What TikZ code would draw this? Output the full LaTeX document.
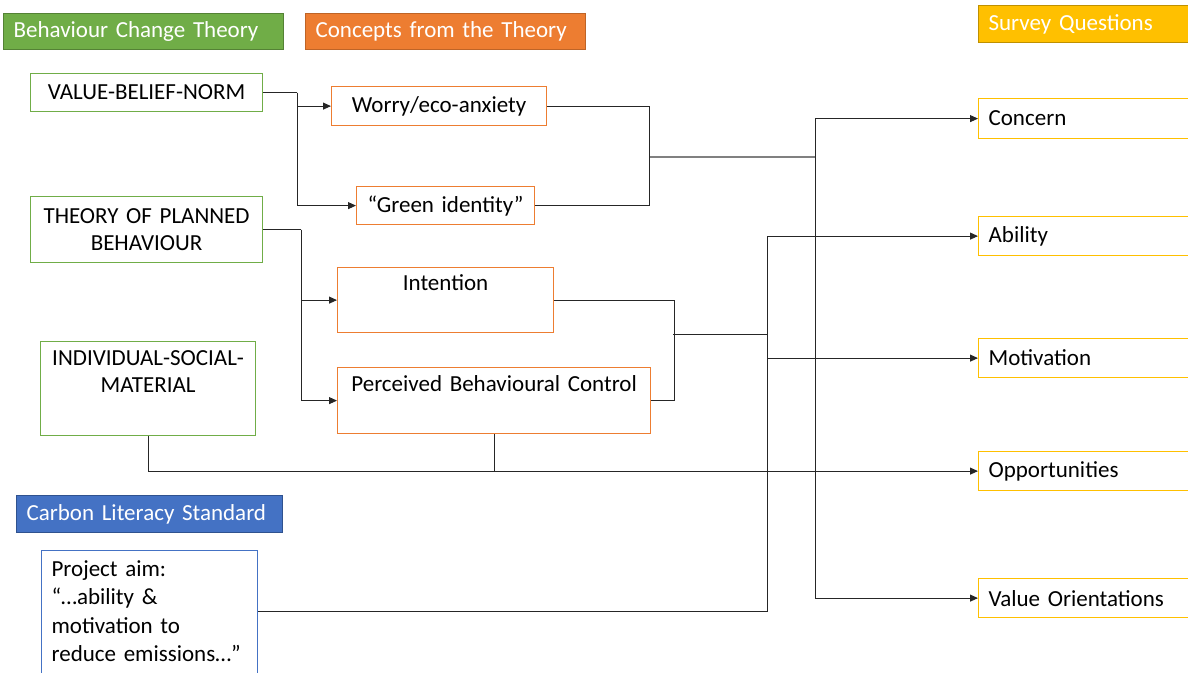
\documentclass[tikz,border=0pt]{standalone}
\usepackage{fontspec}
\setmainfont{Carlito}
\usetikzlibrary{arrows.meta,calc}
\definecolor{cgreen}{HTML}{70AD47}
\definecolor{cgreend}{HTML}{548235}
\definecolor{corange}{HTML}{ED7D31}
\definecolor{cgold}{HTML}{FFC000}
\definecolor{cgoldd}{HTML}{BF9000}
\definecolor{cblue}{HTML}{4472C4}
\definecolor{cblued}{HTML}{2F528F}
\definecolor{cline}{HTML}{262626}
\begin{document}
\begin{tikzpicture}[x=1pt,y=-1pt,
  txt/.style={font=\fontsize{23}{27}\selectfont},
  box/.style={txt, draw, line width=1.2pt, inner xsep=10pt, inner ysep=0pt, anchor=north west, fill=white},
  hdr/.style={box, text=white, align=left, minimum height=36pt},
  theory/.style={box, draw=cgreen, align=center},
  concept/.style={box, draw=corange, align=center},
  survey/.style={box, draw=cgold, align=left, text width=195pt, minimum height=39pt},
  conn/.style={draw=cline, line width=0.9pt},
  arr/.style={conn, -{Triangle[length=8pt,width=7pt]}}
]
\useasboundingbox (0,0) rectangle (1188,672);

% headers
\node[hdr, fill=cgreen, draw=cgreend, text width=260pt] (hbt) at (3,13) {Behaviour Change Theory};
\node[hdr, fill=corange, draw=corange!80!black, text width=260pt] (hct) at (305,13) {Concepts from the Theory};
\node[hdr, fill=cgold, draw=cgoldd, text width=210pt, minimum height=37pt] (hsq) at (978,5) {Survey Questions};
\node[hdr, fill=cblue, draw=cblued, text width=246pt, minimum height=37pt] (hcl) at (16,495) {Carbon Literacy Standard};

% theory boxes
\node[theory, text width=212pt, minimum height=38pt] (vbn) at (30,73) {VALUE-BELIEF-NORM};
\node[theory, text width=212pt, minimum height=66pt] (tpb) at (30,196) {THEORY OF PLANNED\\BEHAVIOUR};
\node[theory, text width=195pt, minimum height=94pt] (ism) at (40,341) {INDIVIDUAL-SOCIAL-\\MATERIAL\\\strut};

% concept boxes
\node[concept, text width=195pt, minimum height=39pt] (wor) at (331,86) {Worry/eco-anxiety};
\node[concept, text width=158pt, minimum height=38pt] (gid) at (356,186) {\char"201C Green identity\char"201D};
\node[concept, text width=196pt, minimum height=65pt] (int) at (337,267) {Intention\\\strut};
\node[concept, text width=293pt, minimum height=66pt] (pbc) at (337,367) {Perceived Behavioural Control\\\strut};

% project aim
\node[box, draw=cblue, align=left, text width=196pt, inner ysep=10pt, font=\fontsize{23}{28.5}\selectfont] (aim) at (41,550)
  {Project aim:\\\char"201C\char"2026 ability \&\\motivation to\\reduce emissions\char"2026\char"201D\\\strut};

% survey boxes
\node[survey, minimum height=40pt] (con) at (978,98) {Concern};
\node[survey] (abi) at (978,216) {Ability};
\node[survey] (mot) at (978,338) {Motivation};
\node[survey] (opp) at (978,451) {Opportunities};
\node[survey] (val) at (978,578) {Value Orientations};

% junction coordinates
\coordinate (j1) at (815,157);
\coordinate (j1s) at (650,157);
\coordinate (j2) at (767,334);
\coordinate (j2s) at (673,334);

% value-belief-norm
\draw[conn] (vbn.east) -- ++(34,0) coordinate (vbnx);
\draw[arr] (vbnx) |- (gid.west);
\draw[arr] (vbnx) |- (wor.west);
\draw[conn] (wor.east) -- ++(102,0) |- (gid.east);
\draw[draw=gray, line width=2.4pt] (j1s) -- (j1);
\draw[arr] (j1) |- (con.west);
\draw[arr] (j1) |- (val.west);

% theory of planned behaviour
\draw[conn] (tpb.east) -- ++(38,0) coordinate (tpbx);
\draw[arr] (tpbx) |- (int.west);
\draw[arr] (tpbx) |- (pbc.west);
\draw[conn] (int.east) -- ++(120,0) |- (pbc.east);
\draw[conn] (j2s) -- (j2);
\draw[arr] (j2) |- (abi.west);
\draw[arr] (j2) |- (mot.west);
\draw[conn] (j2) |- ($(aim.north east)+(0,61)$);

% individual-social-material
\draw[arr] (ism.south) |- (opp.west);
\draw[conn] (pbc.south) -- (pbc.south |- opp.west);
\end{tikzpicture}
\end{document}
